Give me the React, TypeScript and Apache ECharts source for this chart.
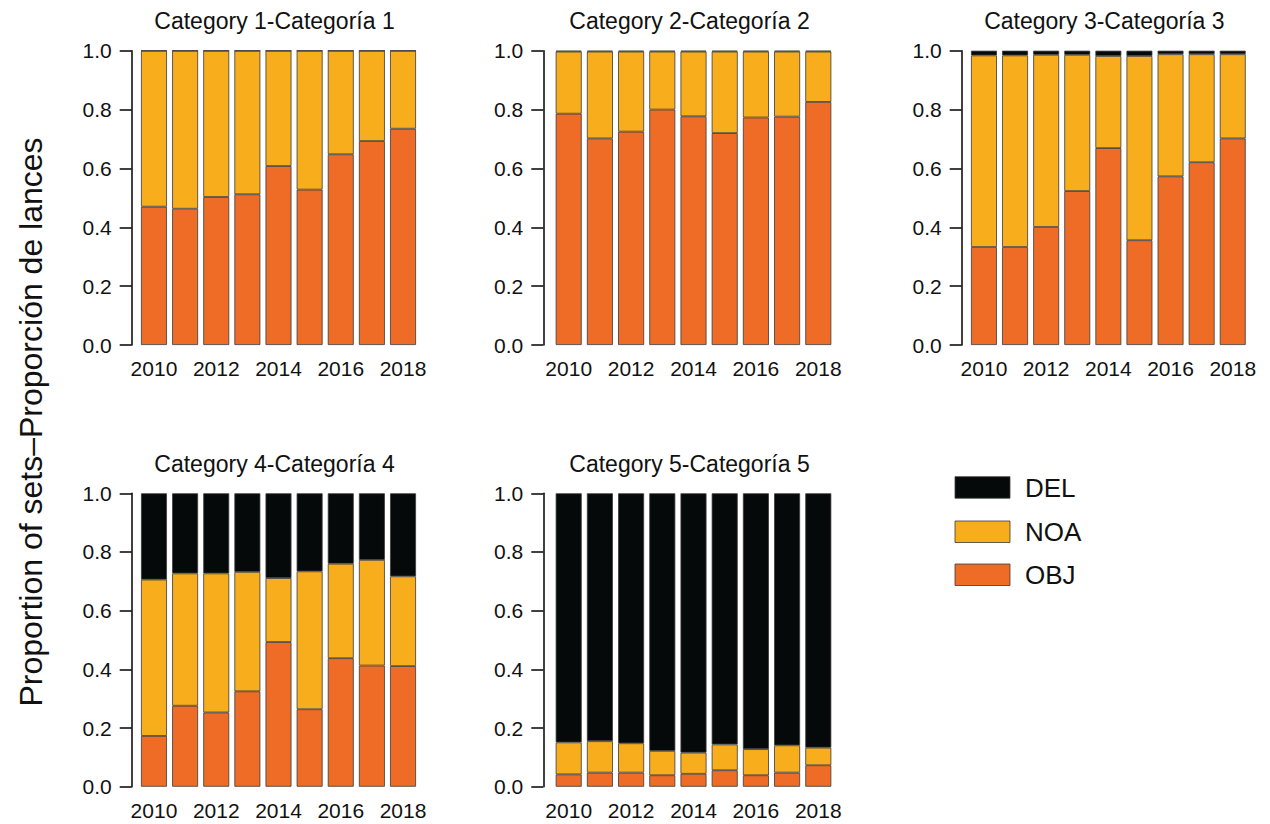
import React, { useEffect, useRef } from "react";
import * as echarts from "echarts";

// Years on the x axis
const years = ["2010", "2011", "2012", "2013", "2014", "2015", "2016", "2017", "2018"];

// Panel titles
const panelTitles = [
  "Category 1-Categoría 1",
  "Category 2-Categoría 2",
  "Category 3-Categoría 3",
  "Category 4-Categoría 4",
  "Category 5-Categoría 5",
];

// Proportions of sets per year, by set type
const obj1 = [0.470, 0.463, 0.503, 0.512, 0.608, 0.528, 0.648, 0.693, 0.735];
const noa1 = [0.530, 0.537, 0.497, 0.488, 0.392, 0.472, 0.352, 0.307, 0.265];
const del1 = [0, 0, 0, 0, 0, 0, 0, 0, 0];

const obj2 = [0.786, 0.702, 0.725, 0.800, 0.777, 0.720, 0.773, 0.776, 0.826];
const noa2 = [0.211, 0.295, 0.272, 0.197, 0.220, 0.277, 0.224, 0.221, 0.171];
const del2 = [0.003, 0.003, 0.003, 0.003, 0.003, 0.003, 0.003, 0.003, 0.003];

const obj3 = [0.333, 0.333, 0.401, 0.523, 0.669, 0.356, 0.573, 0.621, 0.702];
const noa3 = [0.651, 0.651, 0.585, 0.463, 0.313, 0.626, 0.415, 0.367, 0.286];
const del3 = [0.016, 0.016, 0.014, 0.014, 0.018, 0.018, 0.012, 0.012, 0.012];

const obj4 = [0.173, 0.276, 0.253, 0.325, 0.493, 0.264, 0.438, 0.413, 0.411];
const noa4 = [0.533, 0.451, 0.474, 0.407, 0.218, 0.470, 0.322, 0.360, 0.306];
const del4 = [0.294, 0.273, 0.273, 0.268, 0.289, 0.266, 0.240, 0.227, 0.283];

const obj5 = [0.042, 0.048, 0.048, 0.039, 0.044, 0.056, 0.039, 0.048, 0.073];
const noa5 = [0.109, 0.107, 0.100, 0.083, 0.072, 0.088, 0.089, 0.093, 0.060];
const del5 = [0.849, 0.845, 0.852, 0.878, 0.884, 0.856, 0.872, 0.859, 0.867];

const legendNames = ["DEL", "NOA", "OBJ"];

const panelData = [
  { OBJ: obj1, NOA: noa1, DEL: del1 },
  { OBJ: obj2, NOA: noa2, DEL: del2 },
  { OBJ: obj3, NOA: noa3, DEL: del3 },
  { OBJ: obj4, NOA: noa4, DEL: del4 },
  { OBJ: obj5, NOA: noa5, DEL: del5 },
];

const COLORS: Record<string, string> = {
  OBJ: "#EF6C26",
  NOA: "#F8AE1C",
  DEL: "#05090A",
};

const FONT = "'Liberation Sans', Arial, Helvetica, sans-serif";

// Panel frames: bar span (left/right), axis line x, plot top and bottom
const frames = [
  { barL: 141.0, barR: 416.0, axisX: 131.7, top: 50.7, bottom: 345.0 },
  { barL: 555.7, barR: 831.3, axisX: 543.3, top: 50.7, bottom: 345.0 },
  { barL: 971.0, barR: 1245.7, axisX: 961.7, top: 50.7, bottom: 345.0 },
  { barL: 141.0, barR: 416.0, axisX: 131.7, top: 493.3, bottom: 786.7 },
  { barL: 555.7, barR: 831.3, axisX: 543.3, top: 493.3, bottom: 786.7 },
];

export default function App() {
  const ref = useRef<HTMLDivElement>(null);

  useEffect(() => {
    if (!ref.current) return;
    const chart = echarts.init(ref.current, undefined, { renderer: "svg" });

    const grids: any[] = [];
    const xAxes: any[] = [];
    const yAxes: any[] = [];
    const series: any[] = [];
    const titles: any[] = [];

    frames.forEach((f, i) => {
      const span = f.barR - f.barL;
      const barW = span / 10.6; // bars with 0.2 spacing between them
      const gridLeft = f.barL - 0.1 * barW;
      const gridWidth = span + 0.2 * barW;

      grids.push({
        left: gridLeft,
        top: f.top,
        width: gridWidth,
        height: f.bottom - f.top,
        containLabel: false,
      });

      xAxes.push({
        type: "category",
        gridIndex: i,
        data: years,
        axisLine: { show: false },
        axisTick: { show: false },
        axisLabel: {
          interval: 1,
          margin: 13,
          fontSize: 21,
          color: "#111",
          fontFamily: FONT,
        },
      });

      yAxes.push({
        type: "value",
        gridIndex: i,
        min: 0,
        max: 1,
        interval: 0.2,
        offset: gridLeft - f.axisX,
        axisLine: { show: true, lineStyle: { color: "#111", width: 1.6 } },
        axisTick: { show: true, length: 12, lineStyle: { color: "#111", width: 1.6 } },
        splitLine: { show: false },
        axisLabel: {
          margin: 20,
          fontSize: 21,
          color: "#111",
          fontFamily: FONT,
          formatter: (v: number) => v.toFixed(1),
        },
      });

      ["OBJ", "NOA", "DEL"].forEach((name) => {
        series.push({
          type: "bar",
          name,
          xAxisIndex: i,
          yAxisIndex: i,
          stack: "panel" + i,
          barWidth: barW,
          data: (panelData[i] as any)[name],
          itemStyle: {
            color: COLORS[name],
            borderColor: "#3a3a3a",
            borderWidth: 0.8,
          },
          emphasis: { disabled: true },
        });
      });

      titles.push({
        text: panelTitles[i],
        left: (f.barL + f.barR) / 2 - 4,
        top: f.top - 41,
        textAlign: "center",
        padding: 0,
        textStyle: {
          fontSize: 23,
          fontWeight: "normal",
          color: "#111",
          fontFamily: FONT,
        },
      });
    });

    // Legend drawn as boxes and labels to the right of the lower row
    const legendTop = [476.7, 521.0, 564.0];
    const legendGraphics: any[] = [];
    legendNames.forEach((name, k) => {
      legendGraphics.push({
        type: "rect",
        shape: { x: 955, y: legendTop[k], width: 55, height: 21.5 },
        style: { fill: COLORS[name], stroke: "#3a3a3a", lineWidth: 0.8 },
      });
      legendGraphics.push({
        type: "text",
        x: 1025,
        y: legendTop[k] + 11,
        style: {
          text: name,
          fontSize: 26,
          fontFamily: FONT,
          fill: "#111",
          align: "left",
          verticalAlign: "middle",
        },
      });
    });

    chart.setOption({
      animation: false,
      backgroundColor: "#ffffff",
      title: titles,
      grid: grids,
      xAxis: xAxes,
      yAxis: yAxes,
      series,
      graphic: [
        {
          type: "text",
          x: 31,
          y: 422,
          rotation: Math.PI / 2,
          style: {
            text: "Proportion of sets–Proporción de lances",
            fontSize: 32,
            fontFamily: FONT,
            fill: "#111",
            align: "center",
            verticalAlign: "middle",
          },
        },
        ...legendGraphics,
      ],
    });

    return () => {
      chart.dispose();
    };
  }, []);

  return (
    <div
      ref={ref}
      style={{ position: "absolute", left: 0, top: 0, width: 1270, height: 824 }}
    />
  );
}
